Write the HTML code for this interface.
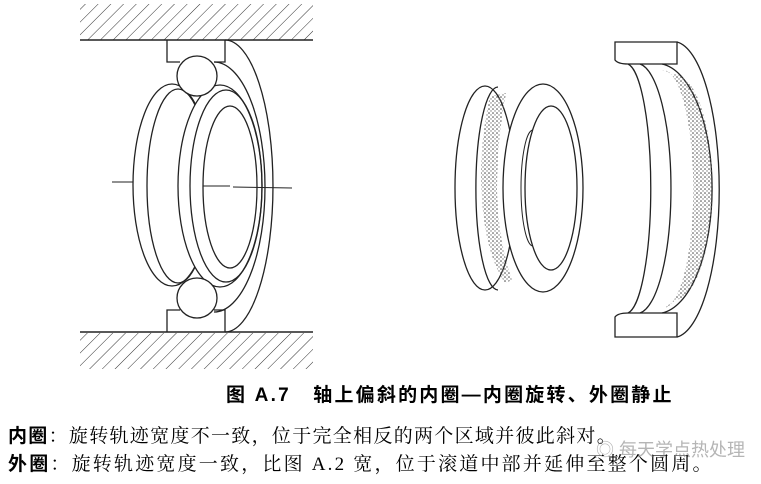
<!DOCTYPE html>
<html><head><meta charset="utf-8"><style>
html,body{margin:0;padding:0;background:#fff;}
body{width:761px;height:484px;position:relative;overflow:hidden;font-family:"Liberation Serif","Noto Serif CJK SC","Noto Sans CJK SC",serif;}
svg{position:absolute;left:0;top:0;}
.t{position:absolute;white-space:nowrap;color:#000;line-height:1;}
</style></head><body>
<svg width="761" height="484" viewBox="0 0 761 484">
<defs>
<pattern id="h" width="9" height="9" patternUnits="userSpaceOnUse" patternTransform="rotate(45)">
<line x1="0" y1="0" x2="0" y2="9" stroke="#333" stroke-width="1"/>
</pattern>
<pattern id="d" width="4" height="4" patternUnits="userSpaceOnUse">
<circle cx="1" cy="1" r="0.8" fill="#444"/><circle cx="3" cy="3" r="0.7" fill="#777"/>
</pattern>
</defs>
<g fill="none" stroke="#222" stroke-width="1.3">
<rect x="80" y="4" width="233" height="36" fill="url(#h)" stroke="none"/>
<rect x="80" y="333" width="233" height="36" fill="url(#h)" stroke="none"/>
<line x1="80" y1="40" x2="313" y2="40" stroke-width="1.6"/>
<line x1="80" y1="332" x2="313" y2="332" stroke-width="1.6"/>
<path d="M167 40 V62 H180 M225 40 V62 H214"/>
<path d="M167 332 V310 H180 M225 332 V310 H214"/>
<path d="M225 40 A48 146 0 0 1 225 332"/>
<path d="M214 62 A51 125 0 0 1 214 312"/>
<ellipse cx="172" cy="185" rx="39" ry="101" fill="#fff"/>
<ellipse cx="178" cy="186" rx="31" ry="97"/>
<ellipse cx="220" cy="186" rx="42" ry="101" fill="#fff"/>
<ellipse cx="226" cy="186" rx="36" ry="96"/>
<ellipse cx="230" cy="187" rx="27" ry="81"/>
<circle cx="197" cy="76" r="20" fill="#fff"/>
<circle cx="197" cy="298" r="20" fill="#fff"/>
<line x1="112" y1="182" x2="133" y2="182" stroke-width="1"/>
<line x1="203" y1="186" x2="230" y2="186" stroke-width="1"/>
<line x1="233" y1="187" x2="292" y2="188" stroke-width="1"/>

<ellipse cx="485" cy="188" rx="30" ry="102" fill="#fff"/>
<path d="M490 96 Q478 150 482 200 Q486 255 505 283 L512 280 Q498 240 497 190 Q497 140 506 93 Z" fill="url(#d)" stroke="none"/>
<path d="M498 87 A22 101 0 0 0 498 290"/>
<ellipse cx="543" cy="188" rx="40" ry="104" fill="#fff"/>
<ellipse cx="551" cy="188" rx="26" ry="82"/>
<path d="M533 130 A12 58 0 0 0 533 246" stroke-width="1"/>
<path d="M615 42 H677 V64 H628 Q618 64 615 60 Z"/>
<path d="M615 337 H677 V313 H628 Q618 313 615 317 Z"/>
<path d="M677 42 A46 148 0 0 1 677 337"/>
<path d="M662 64 A55 125 0 0 1 662 313"/>
<path d="M628 64 A25 125 0 0 1 628 313"/>
<path d="M640 64 A34 125 0 0 1 640 313"/>
<path d="M662 70 A30 118 0 0 1 664 308 L676 300 A38 112 0 0 0 672 74 Z" fill="url(#d)" stroke="none"/>
</g>
</svg>
<div class="t" style="left:226px;top:386px;font-size:19px;letter-spacing:2.2px;font-weight:bold;font-family:'Liberation Sans','Noto Sans CJK SC',sans-serif;">图 A.7&nbsp;&nbsp;&nbsp;轴上偏斜的内圈—内圈旋转、外圈静止</div>
<div class="t" style="left:8px;top:427px;font-size:19px;letter-spacing:1.3px;"><b style="font-family:'Liberation Sans','Noto Sans CJK SC',sans-serif;">内圈</b>：旋转轨迹宽度不一致，位于完全相反的两个区域并彼此斜对。</div>
<div class="t" style="left:8px;top:455px;font-size:19px;letter-spacing:2.2px;"><b style="font-family:'Liberation Sans','Noto Sans CJK SC',sans-serif;">外圈</b>：旋转轨迹宽度一致，比图 A.2 宽，位于滚道中部并延伸至整个圆周。</div>
<div class="t" style="left:596px;top:441px;font-size:18px;color:rgba(120,120,120,0.55);font-family:'Liberation Sans','Noto Sans CJK SC',sans-serif;">◎ 每天学点热处理</div>
</body></html>
